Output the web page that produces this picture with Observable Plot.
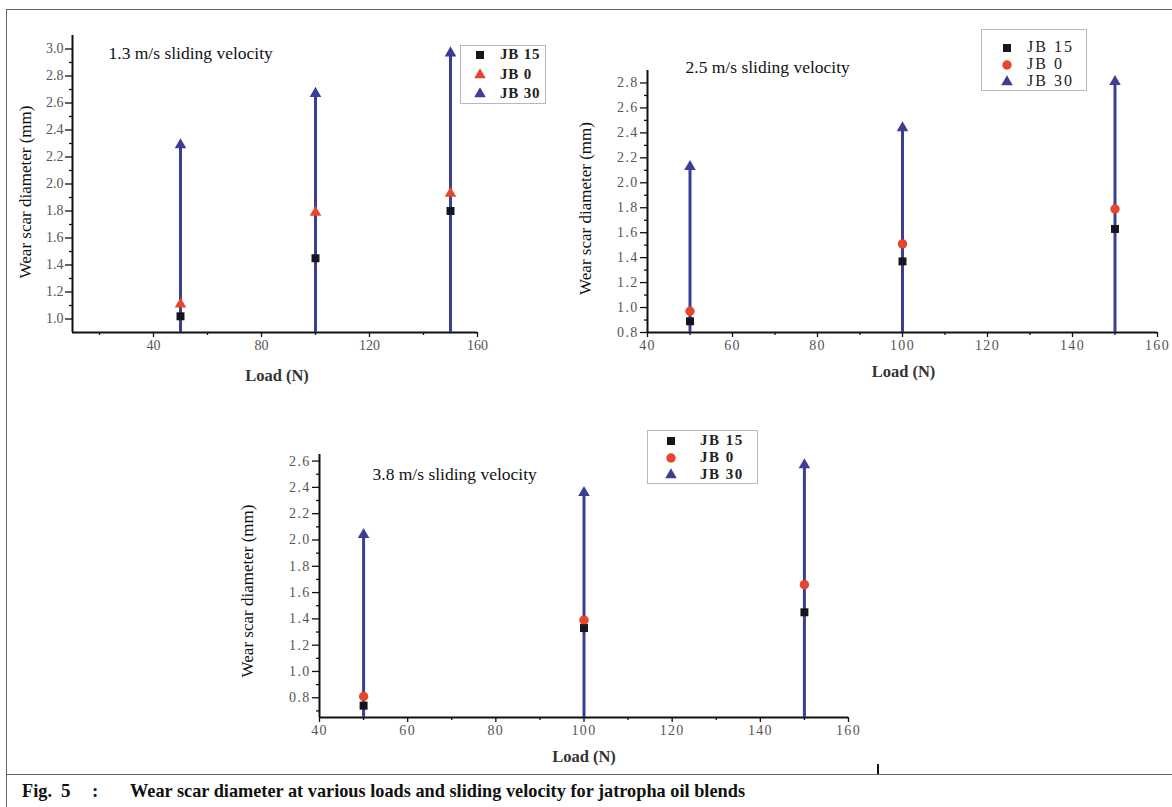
<!DOCTYPE html>
<html>
<head>
<meta charset="utf-8">
<script src="https://cdn.jsdelivr.net/npm/d3@7"></script>
<script src="https://cdn.jsdelivr.net/npm/@observablehq/plot@0.6"></script>
<style>
  html, body { margin: 0; padding: 0; background: #fff; }
  body { width: 1172px; height: 807px; position: relative; overflow: hidden;
         font-family: "Liberation Serif", "Times New Roman", serif; }
  .panel { position: absolute; }
  .panel svg { display: block; max-width: none; font-family: "Liberation Serif", "Times New Roman", serif; }
  .wide g[aria-label$="tick label"] { letter-spacing: 1.3px; }
  .wide g[aria-label="load-label"] { letter-spacing: 1.8px; }
  .frame { position: absolute; left: 6px; top: 9px; width: 1180px; height: 766px;
           border: 1.5px solid #666; border-right: none; box-sizing: border-box; pointer-events: none; }
  .frame-tail { position: absolute; left: 6px; top: 774px; width: 0; height: 40px;
                border-left: 1.5px solid #666; }
  .legend { position: absolute; border: 1px solid #b8b8b8; background: #fff; box-sizing: border-box; }
  .legend-row { position: absolute; white-space: nowrap; line-height: 1; }
  .mark { position: absolute; left: 877px; top: 764px; width: 2px; height: 10px; background: #111; }
</style>
</head>
<body>
<div class="frame"></div>
<div class="frame-tail"></div>
<div class="mark"></div>
<div id="p1" class="panel" style="left:0px;top:0px"></div>
<div id="p2" class="panel wide" style="left:560px;top:0px"></div>
<div id="p3" class="panel wide" style="left:220px;top:420px"></div>
<svg style="position:absolute;left:0;top:776px" width="1172" height="31">
  <text x="22" y="21" font-family="Liberation Serif, serif" font-weight="bold" font-size="19" fill="#111"
        textLength="30" lengthAdjust="spacingAndGlyphs">Fig.</text>
  <text x="61" y="21" font-family="Liberation Serif, serif" font-weight="bold" font-size="19" fill="#111">5</text>
  <text x="92" y="21" font-family="Liberation Serif, serif" font-weight="bold" font-size="19" fill="#111">:</text>
  <text x="130" y="21" font-family="Liberation Serif, serif" font-weight="bold" font-size="19" fill="#111"
        textLength="615" lengthAdjust="spacingAndGlyphs">Wear scar diameter at various loads and sliding velocity for jatropha oil blends</text>
</svg>
<script>
// Applied loads (N)
const loads = [50, 100, 150];

// Blend names and colours
const seriesNames = ["JB 15", "JB 0", "JB 30"];
const seriesColors = ["#15151f", "#e6462c", "#3b3f93"];

// Wear scar diameter (mm) at 1.3 m/s
const jb15_v13 = [1.02, 1.45, 1.80];
const jb0_v13  = [1.11, 1.79, 1.93];
const jb30_v13 = [2.29, 2.67, 2.97];

// Wear scar diameter (mm) at 2.5 m/s
const jb15_v25 = [0.89, 1.37, 1.63];
const jb0_v25  = [0.97, 1.51, 1.79];
const jb30_v25 = [2.13, 2.44, 2.81];

// Wear scar diameter (mm) at 3.8 m/s
const jb15_v38 = [0.74, 1.33, 1.45];
const jb0_v38  = [0.81, 1.39, 1.66];
const jb30_v38 = [2.04, 2.36, 2.57];

const titles = ["1.3 m/s sliding velocity", "2.5 m/s sliding velocity", "3.8 m/s sliding velocity"];

// Tick positions
const xTicks13 = [40, 80, 120, 160];
const xMinor13 = [20, 60, 100, 140];
const xTicksWide = [40, 60, 80, 100, 120, 140, 160];
const xMinorWide = [50, 70, 90, 110, 130, 150];
const yTicks13 = [1.0, 1.2, 1.4, 1.6, 1.8, 2.0, 2.2, 2.4, 2.6, 2.8, 3.0];
const yMinor13 = [1.1, 1.3, 1.5, 1.7, 1.9, 2.1, 2.3, 2.5, 2.7, 2.9];
const yTicks25 = [0.8, 1.0, 1.2, 1.4, 1.6, 1.8, 2.0, 2.2, 2.4, 2.6, 2.8];
const yMinor25 = [0.9, 1.1, 1.3, 1.5, 1.7, 1.9, 2.1, 2.3, 2.5, 2.7];
const yTicks38 = [0.8, 1.0, 1.2, 1.4, 1.6, 1.8, 2.0, 2.2, 2.4, 2.6];
const yMinor38 = [0.7, 0.9, 1.1, 1.3, 1.5, 1.7, 1.9, 2.1, 2.3, 2.5];

const FONT = '"Liberation Serif", "Times New Roman", serif';
const symbolTypes = {square: d3.symbolSquare, triangle: d3.symbolTriangle, circle: d3.symbolCircle};
const symbolR = {square: 4.5, triangle: 4.3, circle: 4.7};

function drawPanel(o) {
  const rows = loads.map((load, i) => ({load, jb15: o.jb15[i], jb0: o.jb0[i], jb30: o.jb30[i]}));
  const x0 = o.xDomain[0], y0 = o.yDomain[0];
  const axisStyle = {stroke: "#111", strokeWidth: 1.3, label: null, fontFamily: FONT};
  return Plot.plot({
    width: o.width, height: o.height,
    marginLeft: o.m[0], marginRight: o.m[1], marginTop: o.m[2], marginBottom: o.m[3],
    style: {background: "none", fontFamily: FONT, overflow: "visible"},
    x: {domain: o.xDomain, label: null},
    y: {domain: o.yDomain, label: null},
    marks: [
      Plot.axisY({...axisStyle, ticks: o.yMinor, tickSize: 3, tickFormat: () => ""}),
      Plot.axisY({...axisStyle, ticks: o.yMajor, tickSize: 7, tickPadding: 2,
                  tickFormat: d3.format(".1f"), fontSize: 14, fill: "#555"}),
      Plot.axisX({...axisStyle, ticks: o.xMinor, tickSize: 3, tickFormat: () => ""}),
      Plot.axisX({...axisStyle, ticks: o.xMajor, tickSize: 5, tickPadding: 3,
                  tickFormat: d3.format("d"), fontSize: 14, fill: "#555"}),
      Plot.ruleX([x0], {stroke: "#111", strokeWidth: 2}),
      Plot.ruleY([y0], {stroke: "#111", strokeWidth: 2}),
      Plot.ruleX(rows, {x: "load", y1: y0, y2: "jb30", stroke: seriesColors[2], strokeWidth: 3}),
      Plot.dot(rows, {x: "load", y: "jb30", symbol: "triangle", r: symbolR.triangle, fill: seriesColors[2]}),
      Plot.dot(rows, {x: "load", y: "jb0", symbol: o.symbols[1], r: symbolR[o.symbols[1]], fill: seriesColors[1]}),
      Plot.dot(rows, {x: "load", y: "jb15", symbol: "square", r: symbolR.square, fill: seriesColors[0]}),
      Plot.text([o.title], {frameAnchor: "top-left", dx: o.titlePos[0], dy: o.titlePos[1], fontFamily: FONT,
                            textAnchor: "start", lineAnchor: "middle", fontSize: 17.5, fill: "#111"}),
      Plot.text(["Wear scar diameter (mm)"], {frameAnchor: "left", rotate: -90, dx: o.yLab[0], dy: o.yLab[1],
                                             fontFamily: FONT, textAnchor: "middle", lineAnchor: "middle",
                                             fontSize: 17, fill: "#111"}),
      Plot.text(["Load (N)"], {frameAnchor: "bottom", dx: o.xLab[0], dy: o.xLab[1], ariaLabel: "load-label",
                               fontFamily: FONT, textAnchor: "middle", lineAnchor: "middle",
                               fontSize: 16.5, fontWeight: "bold", fill: "#333"})
    ]
  });
}

function drawLegend(o) {
  const box = document.createElement("div");
  box.className = "legend";
  Object.assign(box.style, {left: o.box[0] + "px", top: o.box[1] + "px",
                            width: o.box[2] + "px", height: o.box[3] + "px"});
  document.body.appendChild(box);
  seriesNames.forEach((name, i) => {
    const type = o.symbols[i];
    const r = symbolR[type];
    const svg = d3.create("svg").attr("width", 20).attr("height", 20)
      .style("position", "absolute")
      .style("left", (o.symX - 10) + "px").style("top", (o.rowsY[i] - 10) + "px");
    svg.append("path")
      .attr("transform", "translate(10,10)")
      .attr("d", d3.symbol(symbolTypes[type], r * r * Math.PI)())
      .attr("fill", seriesColors[i]);
    document.body.appendChild(svg.node());
    const label = document.createElement("div");
    label.className = "legend-row";
    label.textContent = name;
    Object.assign(label.style, {left: o.textX + "px", top: (o.rowsY[i] - o.fontSize * 0.55) + "px",
                                fontSize: o.fontSize + "px", fontWeight: o.bold ? "bold" : "normal",
                                letterSpacing: o.spacing + "px", color: "#222"});
    document.body.appendChild(label);
  });
}

document.getElementById("p1").appendChild(drawPanel({
  width: 560, height: 400, m: [72, 83, 35, 68],
  xDomain: [10, 160], yDomain: [0.9, 3.1],
  xMajor: xTicks13, xMinor: xMinor13, yMajor: yTicks13, yMinor: yMinor13,
  jb15: jb15_v13, jb0: jb0_v13, jb30: jb30_v13,
  symbols: ["square", "triangle", "triangle"],
  title: titles[0], titlePos: [36, 18], yLab: [-47, 8], xLab: [2, 43]
}));

document.getElementById("p2").appendChild(drawPanel({
  width: 612, height: 400, m: [87, 15, 70, 68],
  xDomain: [40, 160], yDomain: [0.8, 2.9],
  xMajor: xTicksWide, xMinor: xMinorWide, yMajor: yTicks25, yMinor: yMinor25,
  jb15: jb15_v25, jb0: jb0_v25, jb30: jb30_v25,
  symbols: ["square", "circle", "triangle"],
  title: titles[1], titlePos: [38, -3], yLab: [-62, 7], xLab: [1, 39]
}));

document.getElementById("p3").appendChild(drawPanel({
  width: 660, height: 350, m: [99, 32, 34, 53],
  xDomain: [40, 160], yDomain: [0.65, 2.65],
  xMajor: xTicksWide, xMinor: xMinorWide, yMajor: yTicks38, yMinor: yMinor38,
  jb15: jb15_v38, jb0: jb0_v38, jb30: jb30_v38,
  symbols: ["square", "circle", "triangle"],
  title: titles[2], titlePos: [53, 20], yLab: [-72, 5], xLab: [0, 39]
}));

drawLegend({box: [460, 45, 86, 59], symX: 480, textX: 500, rowsY: [55, 75, 94],
            symbols: ["square", "triangle", "triangle"], fontSize: 15, bold: true, spacing: 0.8});
drawLegend({box: [981, 29, 106, 62], symX: 1007, textX: 1027, rowsY: [48, 65, 82],
            symbols: ["square", "circle", "triangle"], fontSize: 16, bold: false, spacing: 2});
drawLegend({box: [647, 430, 111, 54], symX: 671, textX: 700, rowsY: [441, 458, 475],
            symbols: ["square", "circle", "triangle"], fontSize: 15, bold: true, spacing: 1.5});
</script>
</body>
</html>
